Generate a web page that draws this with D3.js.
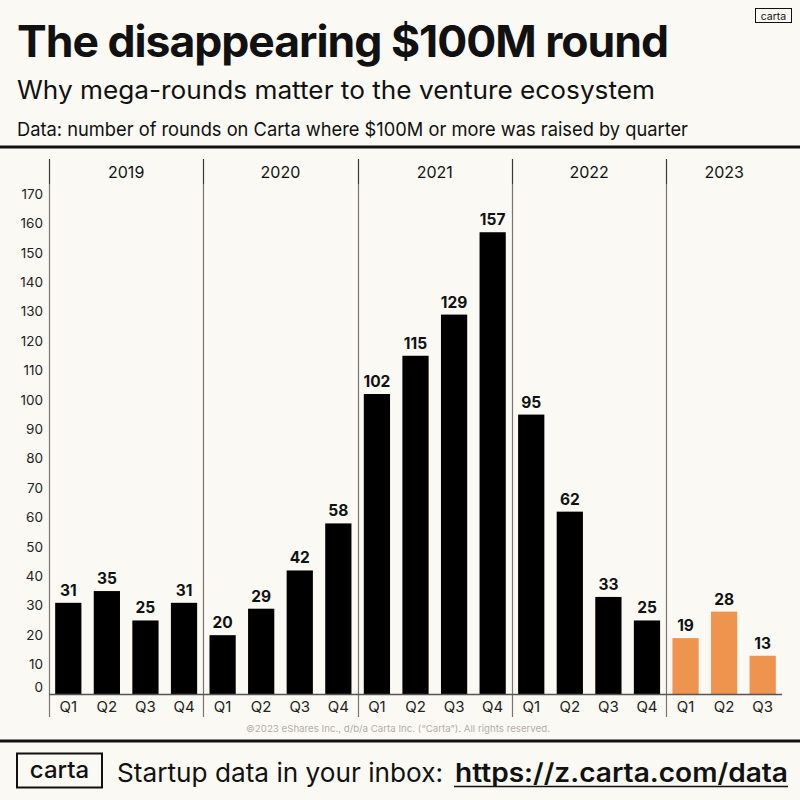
<!DOCTYPE html>
<html>
<head>
<meta charset="utf-8">
<script src="https://cdn.jsdelivr.net/npm/d3@7"></script>
<style>
  html, body { margin: 0; padding: 0; background: #fbf9f4; }
  svg { display: block; font-family: Inter, "Noto Sans", sans-serif; }
</style>
</head>
<body>
<script>
// chart data
var years = ["2019", "2020", "2021", "2022", "2023"];
var quarters = [
	["Q1", "Q2", "Q3", "Q4"],
	["Q1", "Q2", "Q3", "Q4"],
	["Q1", "Q2", "Q3", "Q4"],
	["Q1", "Q2", "Q3", "Q4"],
	["Q1", "Q2", "Q3"]
];
var rounds2019 = [31, 35, 25, 31];
var rounds2020 = [20, 29, 42, 58];
var rounds2021 = [102, 115, 129, 157];
var rounds2022 = [95, 62, 33, 25];
var rounds2023 = [19, 28, 13];
var yTicks = [0, 10, 20, 30, 40, 50, 60, 70, 80, 90, 100, 110, 120, 130, 140, 150, 160, 170];
var highlightYear = "2023";

var roundsByYear = [rounds2019, rounds2020, rounds2021, rounds2022, rounds2023];

// flatten to one row per quarter
var rows = [];
for (var i = 0; i < years.length; i++) {
	for (var j = 0; j < quarters[i].length; j++) {
		rows.push({
			key: years[i] + " " + quarters[i][j],
			year: years[i],
			quarter: quarters[i][j],
			value: roundsByYear[i][j]
		});
	}
}

var w = 800;
var h = 800;
var ink = "#111";
var orange = "#ef944f";

var svg = d3.select("body")
			.append("svg")
			.attr("width", w)
			.attr("height", h);

svg.append("rect")
   .attr("width", w)
   .attr("height", h)
   .attr("fill", "#fbf9f4");

// header
svg.append("text")
   .text("The disappearing $100M round")
   .attr("x", 17)
   .attr("y", 57)
   .attr("font-size", "44px")
   .attr("font-weight", 700)
   .attr("letter-spacing", "-1px")
   .attr("textLength", 651)
   .attr("lengthAdjust", "spacingAndGlyphs")
   .attr("fill", ink);

svg.append("text")
   .text("Why mega-rounds matter to the venture ecosystem")
   .attr("x", 17)
   .attr("y", 99)
   .attr("font-size", "25px")
   .attr("textLength", 638)
   .attr("lengthAdjust", "spacingAndGlyphs")
   .attr("fill", ink);

svg.append("text")
   .text("Data: number of rounds on Carta where $100M or more was raised by quarter")
   .attr("x", 17)
   .attr("y", 136)
   .attr("font-size", "19px")
   .attr("textLength", 671)
   .attr("lengthAdjust", "spacingAndGlyphs")
   .attr("fill", ink);

// small logo top right
svg.append("rect")
   .attr("x", 755.5)
   .attr("y", 8.5)
   .attr("width", 36)
   .attr("height", 14)
   .attr("fill", "none")
   .attr("stroke", ink)
   .attr("stroke-width", 1);
svg.append("text")
   .text("carta")
   .attr("x", 773.5)
   .attr("y", 19.5)
   .attr("text-anchor", "middle")
   .attr("font-size", "10.5px")
   .attr("fill", ink);

// rules
svg.append("line")
   .attr("x1", 0).attr("x2", w)
   .attr("y1", 147).attr("y2", 147)
   .attr("stroke", ink)
   .attr("stroke-width", 3);
svg.append("line")
   .attr("x1", 0).attr("x2", w)
   .attr("y1", 741).attr("y2", 741)
   .attr("stroke", ink)
   .attr("stroke-width", 3);

// scales
var x = d3.scaleBand()
		  .domain(rows.map(function(d) { return d.key; }))
		  .range([49, 782])
		  .paddingInner(0.32)
		  .paddingOuter(0.16);

var y = d3.scaleLinear()
		  .domain([0, 170])
		  .range([694, 194]);

var gap = x.step() - x.bandwidth();

// year groups
var groups = years.map(function(yr, i) {
	var first = x(yr + " " + quarters[i][0]) - gap / 2;
	var last = x(yr + " " + quarters[i][quarters[i].length - 1]) + x.bandwidth() + gap / 2;
	return { year: yr, x0: first, x1: last };
});

// separators: darker in the year band, lighter through the plot
svg.selectAll("line.sep")
   .data(groups)
   .enter()
   .append("line")
   .attr("class", "sep")
   .attr("x1", function(d) { return Math.round(d.x0) + 0.5; })
   .attr("x2", function(d) { return Math.round(d.x0) + 0.5; })
   .attr("y1", 184)
   .attr("y2", 717)
   .attr("stroke", "#7a7771")
   .attr("stroke-width", 1.2);
svg.selectAll("line.sepTop")
   .data(groups)
   .enter()
   .append("line")
   .attr("class", "sepTop")
   .attr("x1", function(d) { return Math.round(d.x0) + 0.5; })
   .attr("x2", function(d) { return Math.round(d.x0) + 0.5; })
   .attr("y1", 159)
   .attr("y2", 184)
   .attr("stroke", "#3a3834")
   .attr("stroke-width", 1.2);

svg.selectAll("text.year")
   .data(groups)
   .enter()
   .append("text")
   .attr("class", "year")
   .text(function(d) { return d.year; })
   .attr("x", function(d) { return (d.x0 + d.x1) / 2; })
   .attr("y", 172)
   .attr("dy", "0.35em")
   .attr("text-anchor", "middle")
   .attr("font-size", "16px")
   .attr("fill", ink);

// y axis labels (0 sits a little above the baseline)
svg.selectAll("text.ytick")
   .data(yTicks)
   .enter()
   .append("text")
   .attr("class", "ytick")
   .text(function(d) { return d; })
   .attr("x", 43)
   .attr("y", function(d) { return d === 0 ? y(d) - 7 : y(d); })
   .attr("dy", "0.35em")
   .attr("text-anchor", "end")
   .attr("font-size", "13.5px")
   .attr("fill", "#222");

// bars
svg.selectAll("rect.bar")
   .data(rows)
   .enter()
   .append("rect")
   .attr("class", "bar")
   .attr("x", function(d) { return x(d.key); })
   .attr("y", function(d) { return y(d.value); })
   .attr("width", x.bandwidth())
   .attr("height", function(d) { return y(0) - y(d.value); })
   .attr("fill", function(d) { return d.year === highlightYear ? orange : "#000"; });

svg.selectAll("text.val")
   .data(rows)
   .enter()
   .append("text")
   .attr("class", "val")
   .text(function(d) { return d.value; })
   .attr("x", function(d) { return x(d.key) + x.bandwidth() / 2; })
   .attr("y", function(d) { return y(d.value) - 7; })
   .attr("text-anchor", "middle")
   .attr("font-size", "15.5px")
   .attr("font-weight", 700)
   .attr("fill", ink);

// baseline
svg.append("line")
   .attr("x1", 49).attr("x2", 782)
   .attr("y1", 694.5).attr("y2", 694.5)
   .attr("stroke", "#555")
   .attr("stroke-width", 1.5);

svg.selectAll("text.q")
   .data(rows)
   .enter()
   .append("text")
   .attr("class", "q")
   .text(function(d) { return d.quarter; })
   .attr("x", function(d) { return x(d.key) + x.bandwidth() / 2; })
   .attr("y", 707)
   .attr("dy", "0.35em")
   .attr("text-anchor", "middle")
   .attr("font-size", "15px")
   .attr("fill", "#222");

svg.append("text")
   .text("\u00a92023 eShares Inc., d/b/a Carta Inc. (\u201cCarta\u201d). All rights reserved.")
   .attr("x", 398)
   .attr("y", 732)
   .attr("text-anchor", "middle")
   .attr("font-size", "9.5px")
   .attr("textLength", 304)
   .attr("lengthAdjust", "spacingAndGlyphs")
   .attr("fill", "#b3afa8");

// footer
svg.append("rect")
   .attr("x", 17)
   .attr("y", 753.5)
   .attr("width", 85)
   .attr("height", 34)
   .attr("fill", "none")
   .attr("stroke", ink)
   .attr("stroke-width", 2);
svg.append("text")
   .text("carta")
   .attr("x", 59.5)
   .attr("y", 778)
   .attr("text-anchor", "middle")
   .attr("font-size", "24px")
   .attr("font-weight", 500)
   .attr("fill", ink);

svg.append("text")
   .text("Startup data in your inbox:")
   .attr("x", 117)
   .attr("y", 782)
   .attr("font-size", "26px")
   .attr("textLength", 326)
   .attr("lengthAdjust", "spacingAndGlyphs")
   .attr("fill", ink);

svg.append("text")
   .text("https://z.carta.com/data")
   .attr("x", 455)
   .attr("y", 782)
   .attr("font-size", "26px")
   .attr("font-weight", 600)
   .attr("textLength", 333)
   .attr("lengthAdjust", "spacingAndGlyphs")
   .attr("fill", ink);
svg.append("line")
   .attr("x1", 454).attr("x2", 788)
   .attr("y1", 786.5).attr("y2", 786.5)
   .attr("stroke", ink)
   .attr("stroke-width", 1.5);
</script>
</body>
</html>
